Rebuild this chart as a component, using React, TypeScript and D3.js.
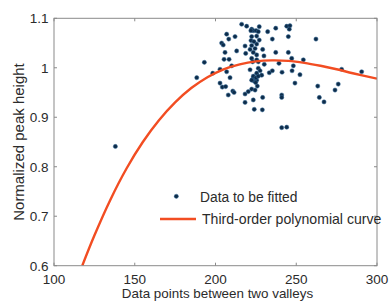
import React from "react";
import * as d3 from "d3";

const xTicks = [100, 150, 200, 250, 300];
const yTicks = [0.6, 0.7, 0.8, 0.9, 1.0, 1.1];
const yTickLabels = ["0.6", "0.7", "0.8", "0.9", "1", "1.1"];

const pointsX = [
  216.2, 219.3, 222.4, 223.4, 225.1, 227.1, 232.3, 237.3, 244.1, 246.1, 245.7,
  206.9, 208.2, 212.1, 222.4, 225.5, 227.1, 222.0, 235.2, 245.1, 262.2,
  203.8, 204.8, 218.3, 222.4, 225.5, 224.5, 221.4, 229.2, 218.7, 213.1, 205.9,
  223.4, 225.5, 230.0, 237.3, 245.1, 193.1, 205.3, 208.4, 210.0, 222.4, 223.0,
  225.5, 226.5, 230.2, 239.3, 247.2, 254.4, 248.2, 221.4, 226.5, 227.6, 228.6,
  225.5, 233.3, 235.2, 241.2, 247.4, 252.3, 278.1, 290.5, 198.3, 202.8, 206.9,
  188.4, 209.0, 223.0, 224.0, 225.5, 224.9, 202.8, 204.2, 206.3, 225.9, 249.2,
  263.3, 276.0, 274.0, 210.7, 211.5, 207.9, 218.3, 220.3, 222.4, 224.5, 229.2,
  241.0, 241.0, 223.4, 218.3, 264.3, 267.2, 224.0, 229.0, 241.0, 244.1, 138.0,
  223.4, 225.1, 222.4, 226.5, 221.9, 226.5, 223.8,
];
const pointsY = [
  1.088, 1.084, 1.078, 1.075, 1.075, 1.083, 1.073, 1.08, 1.084, 1.085, 1.078,
  1.068, 1.058, 1.063, 1.063, 1.064, 1.056, 1.055, 1.058, 1.063, 1.058,
  1.05, 1.046, 1.044, 1.045, 1.048, 1.039, 1.037, 1.037, 1.029, 1.034, 1.031,
  1.031, 1.026, 1.024, 1.031, 1.031, 1.011, 1.017, 1.017, 1.004, 1.019, 1.012,
  1.016, 1.012, 1.007, 1.009, 1.019, 1.016, 1.004, 0.996, 0.999, 0.994, 0.985,
  0.989, 0.99, 0.994, 0.991, 0.994, 0.986, 0.997, 0.992, 0.989, 0.997, 0.992,
  0.98, 0.98, 0.977, 0.973, 0.975, 0.97, 0.969, 0.961, 0.962, 0.963, 0.969,
  0.963, 0.967, 0.955, 0.953, 0.95, 0.945, 0.947, 0.952, 0.957, 0.955, 0.94,
  0.945, 0.94, 0.935, 0.93, 0.94, 0.931, 0.916, 0.915, 0.879, 0.88, 0.841,
  0.983, 0.98, 0.975, 0.983, 1.075, 1.073, 1.053,
];

const curveX = [117.5, 125, 135, 145, 155, 165, 175, 185, 195, 205, 215, 225, 235, 245, 255, 265, 275, 285, 300];
const curveY = [0.6, 0.661, 0.734, 0.797, 0.85, 0.894, 0.93, 0.959, 0.981, 0.997, 1.007, 1.013, 1.015, 1.014, 1.01, 1.004, 0.997, 0.989, 0.978];

const legendLabels = ["Data to be fitted", "Third-order polynomial curve"];

export default function App() {
  React.useEffect(() => {
    document.body.style.margin = "0";
  }, []);
  const W = 389, H = 304;
  const left = 54, right = 377, top = 18.3, bottom = 265.7;
  const x = d3.scaleLinear().domain([100, 300]).range([left, right]);
  const y = d3.scaleLinear().domain([0.6, 1.1]).range([bottom, top]);
  const axisColor = "#8a8a8a";
  const textColor = "#2b2b2b";
  const font = "'Liberation Sans', Arial, sans-serif";
  const line = d3
    .line<number>()
    .x((_, i) => x(curveX[i]))
    .y((_, i) => y(curveY[i]))
    .curve(d3.curveCatmullRom);
  const tl = 3;
  return (
    <svg width={W} height={H} style={{ display: "block", background: "#fff" }} fontFamily={font}>
      <defs>
        <clipPath id="plot">
          <rect x={left} y={top} width={right - left} height={bottom - top} />
        </clipPath>
      </defs>
      <g>
        {pointsX.map((px, i) => (
          <circle key={i} cx={x(px)} cy={y(pointsY[i])} r={2.1} fill="#0d2c4a" stroke="#3a6f9a" strokeWidth={0.5} />
        ))}
      </g>
      <path d={line(curveX) || ""} fill="none" stroke="#f24d22" strokeWidth={2.4} clipPath="url(#plot)" />
      <rect x={left} y={top} width={right - left} height={bottom - top} fill="none" stroke={axisColor} strokeWidth={1} />
      {xTicks.map((t) => (
        <g key={"x" + t}>
          <line x1={x(t)} x2={x(t)} y1={bottom} y2={bottom - tl} stroke={axisColor} />
          <line x1={x(t)} x2={x(t)} y1={top} y2={top + tl} stroke={axisColor} />
          <text x={x(t)} y={283.8} textAnchor="middle" fontSize={13.5} fill={textColor}>
            {t}
          </text>
        </g>
      ))}
      {yTicks.map((t, i) => (
        <g key={"y" + t}>
          <line x1={left} x2={left + tl} y1={y(t)} y2={y(t)} stroke={axisColor} />
          <line x1={right} x2={right - tl} y1={y(t)} y2={y(t)} stroke={axisColor} />
          <text x={48.5} y={y(t) + 4.8} textAnchor="end" fontSize={13.5} fill={textColor}>
            {yTickLabels[i]}
          </text>
        </g>
      ))}
      <text x={(left + right) / 2 + 2} y={297.5} textAnchor="middle" fontSize={13.4} fill={textColor}>
        Data points between two valleys
      </text>
      <text
        transform={`translate(23.5,${(top + bottom) / 2}) rotate(-90)`}
        textAnchor="middle"
        fontSize={15}
        fill={textColor}
      >
        Normalized peak height
      </text>
      <circle cx={176.3} cy={196.3} r={2.1} fill="#0d2c4a" stroke="#3a6f9a" strokeWidth={0.5} />
      <text x={200} y={201.5} fontSize={13.8} fill={textColor}>
        {legendLabels[0]}
      </text>
      <line x1={160} x2={196} y1={219} y2={219} stroke="#f24d22" strokeWidth={2.4} />
      <text x={202} y={224} fontSize={14.1} fill={textColor}>
        {legendLabels[1]}
      </text>
    </svg>
  );
}
